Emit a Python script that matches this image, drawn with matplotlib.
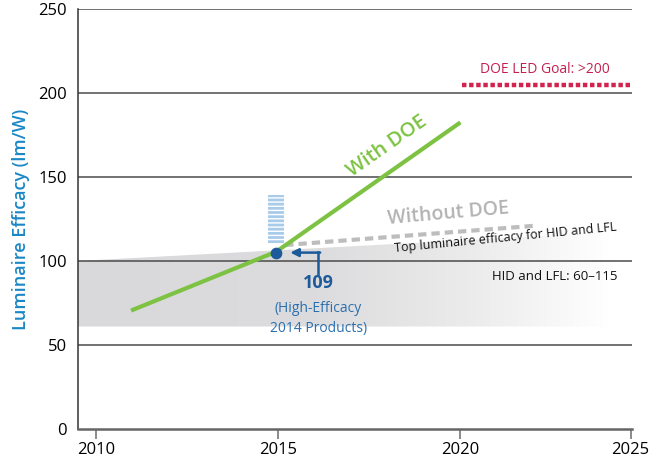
import numpy as np
import matplotlib
matplotlib.use("Agg")
import matplotlib.pyplot as plt
from matplotlib.patches import Polygon
from matplotlib.colors import LinearSegmentedColormap

plt.rcParams["font.family"] = ["Open Sans", "DejaVu Sans"]

# ---------------- DATA ---------------- #

year_ticks = [2010, 2015, 2020, 2024.67]
year_labels = ["2010", "2015", "2020", "2025"]
efficacy_ticks = [0, 50, 100, 150, 200, 250]

with_doe_years = [2010.96, 2014.94, 2020.0]
with_doe_values = [70.5, 105.5, 182.5]

without_doe_years = [2015.19, 2022.06]
without_doe_values = [109.5, 121]

goal_years = [2020.05, 2024.75]
goal_values = [205, 205]

band_years = [2009.5, 2024.1]
band_low = [61, 61]
band_high = [100, 117]

product_year = 2014.94
product_value = 105
stripe_low = 110
stripe_high = 139

# ---------------- PLOT ---------------- #

fig = plt.figure(figsize=(6.56, 4.73), dpi=100)
ax = fig.add_axes([0.119, 0.093, 0.845, 0.888])

ax.set_xlim(2009.505, 2024.72)
ax.set_ylim(0, 250)

# gray HID / LFL band, fading out to the right
verts = [
    (band_years[0], band_low[0]),
    (band_years[1], band_low[1]),
    (band_years[1], band_high[1]),
    (band_years[0], band_high[0]),
]
band = Polygon(verts, closed=True, facecolor="none", edgecolor="none")
ax.add_patch(band)
fade = LinearSegmentedColormap.from_list(
    "fade",
    [(0.0, "#d9d9db"), (0.45, "#dcdcde"), (0.75, "#ececec"), (1.0, "#ffffff")],
)
grad = np.linspace(0, 1, 256).reshape(1, -1)
img = ax.imshow(
    grad,
    extent=[band_years[0], band_years[1], min(band_low), max(band_high)],
    aspect="auto",
    cmap=fade,
    origin="lower",
    zorder=1,
)
img.set_clip_path(band)

# gridlines
for v in [50, 100, 150, 200, 250]:
    ax.axhline(v, color="#4a4a4a", linewidth=1.1, zorder=2)

# striped bar (high efficacy products)
ax.bar(
    product_year,
    stripe_high - stripe_low,
    bottom=stripe_low,
    width=0.44,
    color="#a9cbea",
    edgecolor="white",
    hatch="----",
    linewidth=0,
    zorder=3,
)

# without DOE
ax.plot(
    without_doe_years,
    without_doe_values,
    color="#bdbdbd",
    linewidth=3,
    dashes=(2, 1.2),
    zorder=3,
)

# with DOE
ax.plot(
    with_doe_years,
    with_doe_values,
    color="#7dc242",
    linewidth=3,
    solid_capstyle="butt",
    zorder=4,
)

# DOE goal
ax.plot(
    goal_years,
    goal_values,
    color="#d2234f",
    linewidth=3.2,
    dashes=(1.0, 0.6),
    zorder=4,
)

# product dot
ax.scatter(
    [product_year],
    [product_value],
    s=55,
    color="#1c5a9a",
    zorder=5,
)

# L-shaped arrow
ax.plot([2016.1, 2016.1], [92, 105.6], color="#1c5a9a", linewidth=1.8, zorder=5)
ax.annotate(
    "",
    xy=(2015.33, 105),
    xytext=(2016.15, 105),
    arrowprops=dict(arrowstyle="-|>", color="#1c5a9a", linewidth=1.8,
                    mutation_scale=12, shrinkA=0, shrinkB=0),
    zorder=5,
)

# ---------------- TEXT ---------------- #

ax.text(2016.1, 87, "109", color="#1c5a9a", fontsize=13,
        fontweight="bold", ha="center", va="center")
ax.text(2016.1, 71.5, "(High-Efficacy", color="#2a6fb0", fontsize=10,
        ha="center", va="center")
ax.text(2016.1, 60, "2014 Products)", color="#2a6fb0", fontsize=10,
        ha="center", va="center")

ax.text(2018.0, 168, "With DOE", color="#7dc242", fontsize=14.5,
        fontweight="semibold", ha="center", va="center", rotation=35)

ax.text(2019.67, 128, "Without DOE", color="#b3b3b3", fontsize=14,
        fontweight="semibold", ha="center", va="center", rotation=5)

ax.text(2021.24, 113.5, "Top luminaire efficacy for HID and LFL",
        color="#111111", fontsize=9, ha="center", va="center",
        rotation=5.5)

ax.text(2022.6, 90.5, "HID and LFL: 60\u2013115", color="#111111",
        fontsize=9.5, ha="center", va="center")

ax.text(2022.33, 214, "DOE LED Goal: >200", color="#c4204f",
        fontsize=10, ha="center", va="center")

# ---------------- AXES ---------------- #

ax.set_xticks(year_ticks)
ax.set_xticklabels(year_labels)
ax.set_yticks(efficacy_ticks)
ax.tick_params(axis="x", length=7, width=1.2, color="#777777",
               labelsize=12, pad=2)
ax.tick_params(axis="y", length=0, labelsize=12, pad=8)

ax.set_ylabel("Luminaire Efficacy (lm/W)", color="#1b87c5",
              fontsize=13, fontweight="semibold", labelpad=6)

ax.spines["top"].set_visible(False)
ax.spines["right"].set_visible(False)
ax.spines["left"].set_color("#333333")
ax.spines["left"].set_linewidth(1.1)
ax.spines["bottom"].set_color("#666666")
ax.spines["bottom"].set_linewidth(1.8)

fig.savefig("out.png", dpi=100)
